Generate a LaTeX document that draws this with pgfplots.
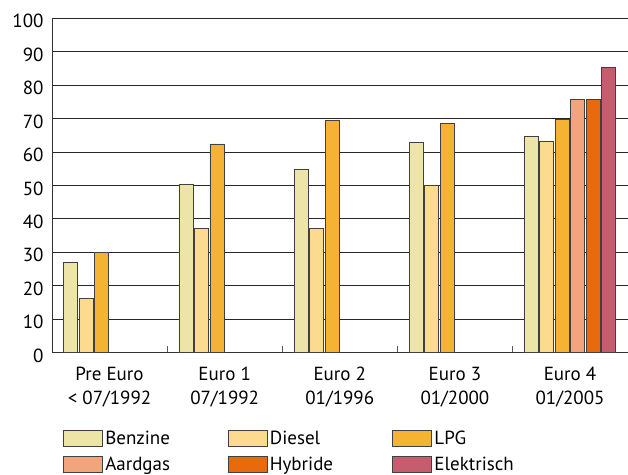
\documentclass[border=0pt]{standalone}
\usepackage{pgfplots}
\usepackage{pgfplotstable}
\pgfplotsset{compat=1.18}
\usepackage{fontspec}
\setmainfont{PT Sans}
\definecolor{cBenz}{HTML}{EDE5A7}
\definecolor{cDies}{HTML}{FDDB8E}
\definecolor{cLPG}{HTML}{F5B334}
\definecolor{cAard}{HTML}{F2A57D}
\definecolor{cHyb}{HTML}{E9690D}
\definecolor{cElek}{HTML}{C55D6F}
\pgfplotstableread{
x Benzine Diesel LPG Aardgas Hybride Elektrisch
0 27.0 16.3 29.9 nan nan nan
1 50.3 37.1 62.4 nan nan nan
2 54.9 37.1 69.4 nan nan nan
3 62.9 50.0 68.4 nan nan nan
4 64.6 63.2 69.6 75.8 75.8 85.3
}\datatable
\begin{document}
\begin{tikzpicture}
\begin{axis}[
  scale only axis,
  width=576bp, height=335bp,
  ybar=1.5bp, bar width=14bp,
  xmin=-0.5, xmax=4.5,
  ymin=0, ymax=100,
  ytick={0,10,...,100},
  xtick={0,1,2,3,4},
  xticklabels={{Pre Euro\\< 07/1992},{Euro 1\\07/1992},{Euro 2\\01/1996},{Euro 3\\01/2000},{Euro 4\\01/2005}},
  minor xtick={0.5,1.5,2.5,3.5},
  major tick length=0pt,
  minor tick length=7bp,
  tick align=inside,
  minor tick style={draw=gray!70!black, line width=0.8pt},
  axis x line*=bottom,
  axis y line*=left,
  axis line style={draw=black!80, line width=0.8pt},
  ymajorgrids,
  major grid style={draw=black!85, line width=0.8pt},
  /pgf/number format/assume math mode=true,
  tick label style={font=\fontsize{19bp}{24bp}\selectfont},
  xticklabel style={align=center, yshift=-11bp},
  yticklabel style={xshift=-5bp, yshift=-3bp},
  legend columns=3,
  legend style={draw=none, at={(0.019,-0.225)}, anchor=north west,
    inner sep=0pt, row sep=6bp, column sep=0pt,
    font=\fontsize{19bp}{22bp}\selectfont,
    nodes={inner sep=2.5bp, text width=120bp, align=left}},
  legend cell align=left,
  legend image code/.code={\draw[#1] (0bp,-8bp) rectangle (39bp,8bp);},
  every axis plot/.append style={draw=black!75, line width=0.7pt},
]
\addplot[fill=cBenz] table[x=x,y=Benzine]{\datatable};
\addplot[fill=cDies] table[x=x,y=Diesel]{\datatable};
\addplot[fill=cLPG] table[x=x,y=LPG]{\datatable};
\addplot[fill=cAard] table[x=x,y=Aardgas]{\datatable};
\addplot[fill=cHyb] table[x=x,y=Hybride]{\datatable};
\addplot[fill=cElek] table[x=x,y=Elektrisch]{\datatable};
\legend{Benzine,Diesel,LPG,Aardgas,Hybride,Elektrisch}
\end{axis}
\path ([shift={(-52bp,-117bp)}]current axis.south west) rectangle ([shift={(0bp,18bp)}]current axis.north east);
\end{tikzpicture}
\end{document}
